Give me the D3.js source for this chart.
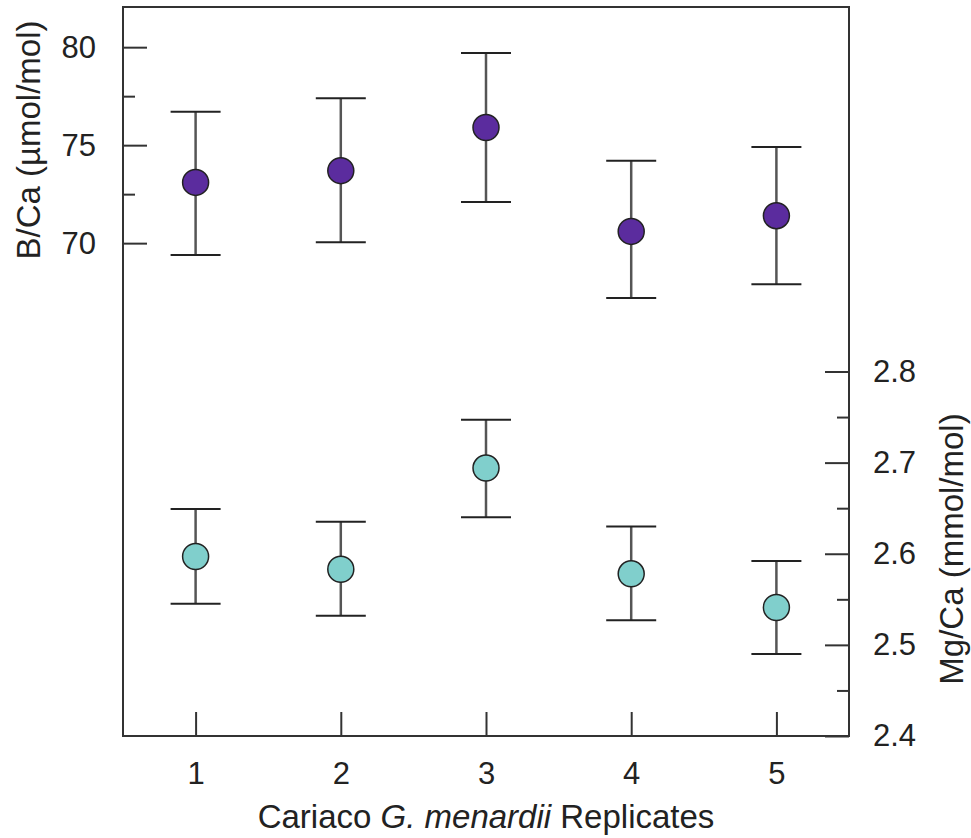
<!DOCTYPE html>
<html>
  <head>
    <script src="https://d3js.org/d3.v7.min.js"></script>
    <style>
      body { margin: 0; background-color: white; }
      text { font-family: 'Liberation Sans', Arial, sans-serif; fill: #222; }
    </style>
  </head>
  <body>
    <svg id="canvas" width="971" height="838"></svg>
    <script>
      // data
      const replicates = [1, 2, 3, 4, 5]
      const bCa = [73.1, 73.7, 75.9, 70.6, 71.4]
      const bCaLow = [69.4, 70.05, 72.1, 67.2, 67.9]
      const bCaHigh = [76.7, 77.4, 79.7, 74.2, 74.9]
      const mgCa = [2.597, 2.583, 2.694, 2.578, 2.541]
      const mgCaLow = [2.545, 2.532, 2.640, 2.527, 2.490]
      const mgCaHigh = [2.649, 2.635, 2.747, 2.630, 2.592]
      const leftTicks = [70, 75, 80]
      const leftMinor = [72.5, 77.5]
      const rightTicks = [2.4, 2.5, 2.6, 2.7, 2.8]
      const rightMinor = [2.45, 2.55, 2.65, 2.75]

      const margin = { top: 7, right: 122, bottom: 102, left: 123 }
      const svg = d3.select('#canvas')
      const width = 971 - margin.left - margin.right
      const height = 838 - margin.top - margin.bottom
      const g = svg.append('g').attr('transform', `translate(${margin.left}, ${margin.top})`)

      const x = d3.scaleLinear().domain([0.5, 5.5]).range([0, width])
      const yL = d3.scaleLinear().domain([44.85, 82.05]).range([height, 0])
      const yR = d3.scaleLinear().domain([2.4, 3.2]).range([height, 0])

      const axisColor = '#333'
      const tickFont = 31
      const titleFont = 33
      const styleAxis = sel => {
        sel.attr('font-size', tickFont).attr('font-family', "'Liberation Sans', Arial, sans-serif")
        sel.select('.domain').remove()
        sel.selectAll('line').attr('stroke', axisColor).attr('stroke-width', 2)
        sel.selectAll('text').attr('fill', '#222')
      }

      // left axis (B/Ca)
      g.append('g')
        .call(d3.axisLeft(yL).tickValues(leftTicks).tickSizeInner(-24).tickSizeOuter(0).tickPadding(27))
        .call(styleAxis)
      g.append('g')
        .call(d3.axisLeft(yL).tickValues(leftMinor).tickSizeInner(-12).tickSizeOuter(0).tickFormat(''))
        .call(styleAxis)

      // right axis (Mg/Ca)
      g.append('g')
        .attr('transform', `translate(${width}, 0)`)
        .call(d3.axisRight(yR).tickValues(rightTicks).tickSizeInner(-24).tickSizeOuter(0).tickPadding(24).tickFormat(d3.format('.1f')))
        .call(styleAxis)
      g.append('g')
        .attr('transform', `translate(${width}, 0)`)
        .call(d3.axisRight(yR).tickValues(rightMinor).tickSizeInner(-12).tickSizeOuter(0).tickFormat(''))
        .call(styleAxis)

      // bottom axis
      g.append('g')
        .attr('transform', `translate(0, ${height})`)
        .call(d3.axisBottom(x).tickValues(replicates).tickSizeInner(-24).tickSizeOuter(0).tickPadding(26).tickFormat(d3.format('d')))
        .call(styleAxis)

      // frame
      g.append('rect')
        .attr('x', 0).attr('y', 0)
        .attr('width', width).attr('height', height)
        .attr('fill', 'none')
        .attr('stroke', axisColor)
        .attr('stroke-width', 2)

      // axis titles
      svg.append('text')
        .attr('transform', 'translate(40, 140) rotate(-90)')
        .attr('text-anchor', 'middle')
        .attr('font-size', titleFont)
        .text('B/Ca (µmol/mol)')

      svg.append('text')
        .attr('transform', 'translate(963, 549) rotate(-90)')
        .attr('text-anchor', 'middle')
        .attr('font-size', titleFont)
        .text('Mg/Ca (mmol/mol)')

      const xt = svg.append('text')
        .attr('x', margin.left + width / 2)
        .attr('y', 828)
        .attr('text-anchor', 'middle')
        .attr('font-size', titleFont)
      xt.append('tspan').text('Cariaco ')
      xt.append('tspan').attr('font-style', 'italic').text('G. menardii')
      xt.append('tspan').text(' Replicates')

      // series
      const capHalf = 25
      const drawSeries = (vals, lows, highs, y, fill) => {
        const data = replicates.map((r, i) => ({ r, v: vals[i], lo: lows[i], hi: highs[i] }))
        const s = g.append('g')
        s.selectAll('line.bar').data(data).enter().append('line')
          .attr('class', 'bar')
          .attr('x1', d => x(d.r)).attr('x2', d => x(d.r))
          .attr('y1', d => y(d.lo)).attr('y2', d => y(d.hi))
          .attr('stroke', '#555').attr('stroke-width', 2.5)
        s.selectAll('line.capLo').data(data).enter().append('line')
          .attr('class', 'capLo')
          .attr('x1', d => x(d.r) - capHalf).attr('x2', d => x(d.r) + capHalf)
          .attr('y1', d => y(d.lo)).attr('y2', d => y(d.lo))
          .attr('stroke', '#222').attr('stroke-width', 2)
        s.selectAll('line.capHi').data(data).enter().append('line')
          .attr('class', 'capHi')
          .attr('x1', d => x(d.r) - capHalf).attr('x2', d => x(d.r) + capHalf)
          .attr('y1', d => y(d.hi)).attr('y2', d => y(d.hi))
          .attr('stroke', '#222').attr('stroke-width', 2)
        s.selectAll('circle').data(data).enter().append('circle')
          .attr('cx', d => x(d.r)).attr('cy', d => y(d.v))
          .attr('r', 13)
          .attr('fill', fill)
          .attr('stroke', '#222').attr('stroke-width', 1.5)
      }

      drawSeries(bCa, bCaLow, bCaHigh, yL, '#5b2c9e')
      drawSeries(mgCa, mgCaLow, mgCaHigh, yR, '#80cfcc')
    </script>
  </body>
</html>
